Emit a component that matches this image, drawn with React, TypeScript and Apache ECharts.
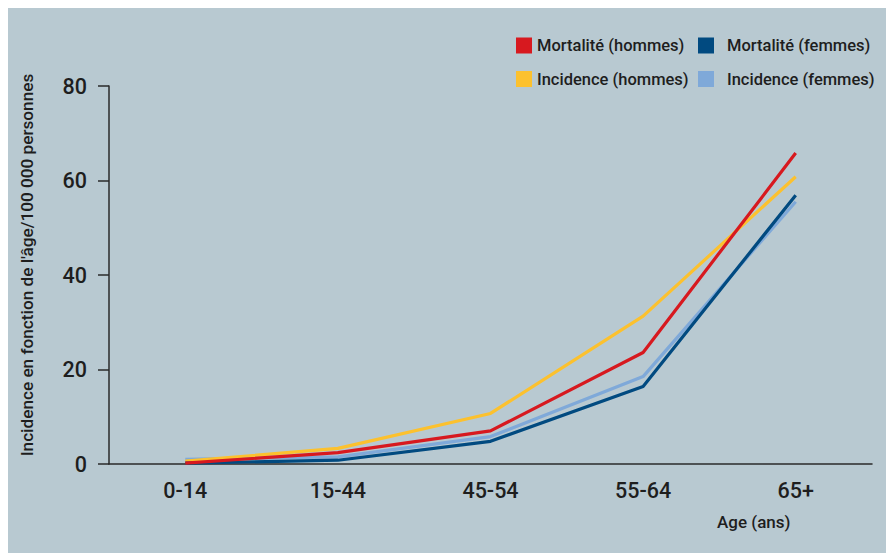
import React, { useEffect, useRef } from "react";
import * as echarts from "echarts";

const ageGroups = ["0-14", "15-44", "45-54", "55-64", "65+"];
const mortaliteHommes = [0.2, 2.4, 7.0, 23.6, 65.8];
const mortaliteFemmes = [0.2, 0.8, 4.8, 16.4, 56.9];
const incidenceHommes = [0.6, 3.3, 10.7, 31.3, 60.8];
const incidenceFemmes = [1.0, 1.5, 5.8, 18.5, 55.5];
const yTicks = [0, 20, 40, 60, 80];

const BG = "#b8c9d1";
const INK = "#1e1e1e";
const FONT = "Roboto, 'Liberation Sans', Arial, sans-serif";

const RED = "#d7191f";
const NAVY = "#014a80";
const YELLOW = "#fcc12e";
const SKY = "#7fa9d9";

export default function App() {
  const ref = useRef<HTMLDivElement>(null);

  useEffect(() => {
    if (!ref.current) return;
    const chart = echarts.init(ref.current, null, { renderer: "svg" });

    const line = (name: string, data: number[], color: string) => ({
      name,
      type: "line",
      data,
      symbol: "none",
      showSymbol: false,
      itemStyle: { color },
      lineStyle: { color, width: 3.2 },
    });

    const legendText = {
      fontFamily: FONT,
      fontWeight: 500,
      fontSize: 16.5,
      color: INK,
    };

    const legendBase = {
      orient: "vertical",
      top: 30,
      icon: "rect",
      itemWidth: 16,
      itemHeight: 16,
      itemGap: 16.5,
      padding: 0,
      selectedMode: false,
    };

    chart.setOption({
      animation: false,
      backgroundColor: BG,
      grid: { left: 101, right: 22, top: 79, bottom: 89, containLabel: false },
      legend: [
        {
          ...legendBase,
          data: ["Mortalité (hommes)", "Incidence (hommes)"],
          left: 508,
          textStyle: legendText,
        },
        {
          ...legendBase,
          data: ["Mortalité (femmes)", "Incidence (femmes)"],
          left: 690,
          textStyle: { ...legendText, padding: [0, 0, 0, 8] },
        },
      ],
      xAxis: {
        type: "category",
        data: ageGroups,
        boundaryGap: true,
        axisLine: { lineStyle: { color: "#2a2a2a", width: 1.5 } },
        axisTick: { length: 11, lineStyle: { color: "#2a2a2a", width: 1.5 } },
        axisLabel: { fontFamily: FONT, fontWeight: 500, fontSize: 21.5, color: INK, margin: 15 },
        splitLine: { show: false },
      },
      yAxis: {
        type: "value",
        min: yTicks[0],
        max: yTicks[yTicks.length - 1],
        interval: 20,
        axisLine: { show: true, lineStyle: { color: "#2a2a2a", width: 1.5 } },
        axisTick: { show: true, length: 11, lineStyle: { color: "#2a2a2a", width: 1.5 } },
        axisLabel: { fontFamily: FONT, fontWeight: 500, fontSize: 21.5, color: INK, margin: 22 },
        splitLine: { show: false },
      },
      graphic: [
        {
          type: "text",
          left: 709,
          top: 506,
          style: {
            text: "Age (ans)",
            fontFamily: FONT,
            fontWeight: 500,
            fontSize: 17,
            fill: INK,
          },
        },
        {
          type: "text",
          x: 19,
          y: 258,
          rotation: Math.PI / 2,
          style: {
            text: "Incidence en fonction de l'âge/100 000 personnes",
            fontFamily: FONT,
            fontWeight: 500,
            fontSize: 17.2,
            fill: INK,
            align: "center",
            verticalAlign: "middle",
          },
        },
      ],
      series: [
        line("Incidence (femmes)", incidenceFemmes, SKY),
        line("Incidence (hommes)", incidenceHommes, YELLOW),
        line("Mortalité (femmes)", mortaliteFemmes, NAVY),
        line("Mortalité (hommes)", mortaliteHommes, RED),
      ],
    });

    return () => chart.dispose();
  }, []);

  return <div ref={ref} style={{ width: 886, height: 546, marginTop: -1 }} />;
}
